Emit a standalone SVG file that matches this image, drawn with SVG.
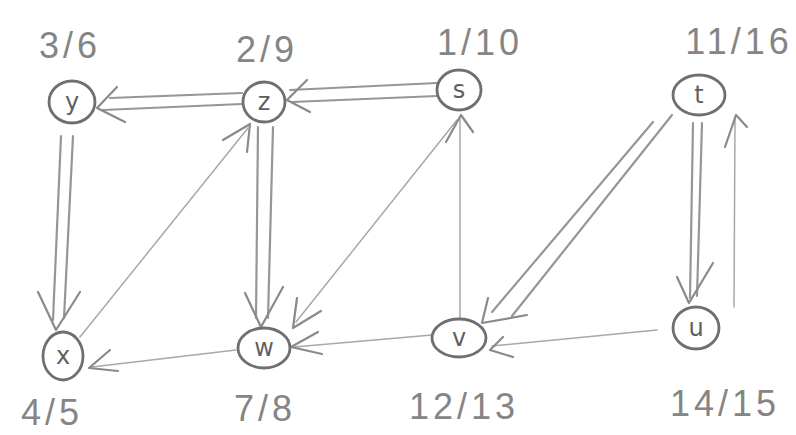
<svg xmlns="http://www.w3.org/2000/svg" width="796" height="435" viewBox="0 0 796 435">
  <style>
    .bg { fill: #ffffff; }
    .node { fill: none; stroke: #6f6f6f; stroke-width: 2.8; }
    .letter { font-family: "DejaVu Sans", sans-serif; font-size: 24px; fill: #5f5f5f; text-anchor: middle; }
    .time { font-family: "Liberation Sans", "DejaVu Sans", sans-serif; font-size: 36px; fill: #858585; text-anchor: middle; letter-spacing: 4px; }
    .tree { fill: none; stroke: #969696; stroke-width: 2.2; stroke-linecap: round; }
    .edge { fill: none; stroke: #a8a8a8; stroke-width: 1.5; stroke-linecap: round; }
    .head { fill: none; stroke: #8a8a8a; stroke-width: 2.2; stroke-linecap: round; stroke-linejoin: round; }
  </style>
  <rect class="bg" width="796" height="435"/>

  <!-- connectors: doubled strokes mark tree edges -->
  <g id="edges">
    <!-- s -> z (tree) -->
    <line class="tree" x1="437" y1="83" x2="290" y2="90"/>
    <line class="tree" x1="437" y1="96" x2="292" y2="102"/>
    <polyline class="head" points="307,80 287,100 310,112"/>
    <!-- z -> y (tree) -->
    <line class="tree" x1="242" y1="93" x2="110" y2="98"/>
    <line class="tree" x1="242" y1="104" x2="103" y2="110"/>
    <polyline class="head" points="117,87 97,108 125,122"/>
    <!-- y -> x (tree) -->
    <line class="tree" x1="61" y1="136" x2="53" y2="320"/>
    <line class="tree" x1="73" y1="136" x2="64" y2="318"/>
    <polyline class="head" points="38,292 56,330 80,292"/>
    <!-- x -> z -->
    <line class="edge" x1="80" y1="337" x2="248" y2="128"/>
    <polyline class="head" points="223,140 250,124 247,152"/>
    <!-- z -> w (tree) -->
    <line class="tree" x1="258" y1="127" x2="256" y2="318"/>
    <line class="tree" x1="273" y1="127" x2="268" y2="318"/>
    <polyline class="head" points="245,293 261,327 283,287"/>
    <!-- s -> w -->
    <line class="edge" x1="457" y1="120" x2="296" y2="322"/>
    <polyline class="head" points="321,311 293,328 297,298"/>
    <!-- w -> x -->
    <line class="edge" x1="236" y1="350" x2="92" y2="367"/>
    <polyline class="head" points="110,350 89,368 118,371"/>
    <!-- v -> s -->
    <line class="edge" x1="460" y1="318" x2="460" y2="118"/>
    <polyline class="head" points="446,142 461,115 473,132"/>
    <!-- v -> w -->
    <line class="edge" x1="432" y1="335" x2="294" y2="347"/>
    <polyline class="head" points="318,332 291,347 322,354"/>
    <!-- t -> v (tree) -->
    <line class="tree" x1="653" y1="122" x2="492" y2="312"/>
    <line class="tree" x1="672" y1="115" x2="512" y2="316"/>
    <polyline class="head" points="488,298 482,323 527,315"/>
    <!-- t -> u (tree) -->
    <line class="tree" x1="693" y1="123" x2="690" y2="298"/>
    <line class="tree" x1="702" y1="123" x2="697" y2="296"/>
    <polyline class="head" points="677,277 689,303 713,263"/>
    <!-- u -> t -->
    <line class="edge" x1="734" y1="307" x2="735" y2="117"/>
    <polyline class="head" points="725,147 736,115 747,127"/>
    <!-- u -> v -->
    <line class="edge" x1="657" y1="330" x2="492" y2="346"/>
    <polyline class="head" points="503,337 490,350 513,357"/>
  </g>

  <!-- vertices with discovery/finish times -->
  <g id="node-y">
    <ellipse class="node" cx="72" cy="102" rx="23" ry="21"/>
    <text class="letter" x="72" y="110">y</text>
    <text class="time" x="70" y="58">3/6</text>
  </g>
  <g id="node-z">
    <ellipse class="node" cx="264" cy="102" rx="21" ry="20"/>
    <text class="letter" x="264" y="110">z</text>
    <text class="time" x="267" y="62">2/9</text>
  </g>
  <g id="node-s">
    <ellipse class="node" cx="459" cy="90" rx="22" ry="20"/>
    <text class="letter" x="459" y="98">s</text>
    <text class="time" x="480" y="55">1/10</text>
  </g>
  <g id="node-t">
    <ellipse class="node" cx="699" cy="95" rx="26" ry="20"/>
    <text class="letter" x="699" y="103">t</text>
    <text class="time" x="739" y="54">11/16</text>
  </g>
  <g id="node-x">
    <ellipse class="node" cx="63" cy="356" rx="20" ry="24"/>
    <text class="letter" x="63" y="364">x</text>
    <text class="time" x="52" y="425">4/5</text>
  </g>
  <g id="node-w">
    <ellipse class="node" cx="264" cy="348" rx="26" ry="20"/>
    <text class="letter" x="264" y="356">w</text>
    <text class="time" x="265" y="421">7/8</text>
  </g>
  <g id="node-v">
    <ellipse class="node" cx="459" cy="338" rx="27" ry="19"/>
    <text class="letter" x="459" y="346">v</text>
    <text class="time" x="464" y="419">12/13</text>
  </g>
  <g id="node-u">
    <ellipse class="node" cx="696" cy="328" rx="23" ry="21"/>
    <text class="letter" x="696" y="336">u</text>
    <text class="time" x="725" y="416">14/15</text>
  </g>
</svg>
